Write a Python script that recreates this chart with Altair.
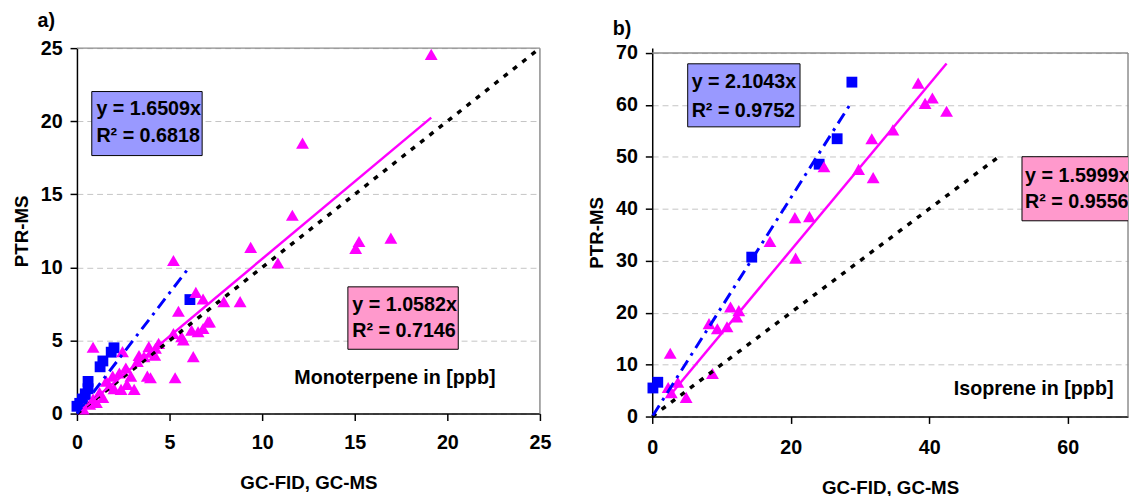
import altair as alt
import pandas as pd

FONT = "Liberation Sans"

# ---------------- data ----------------
# a) Monoterpene, blue squares
mono_sq_x = [0.0, 0.15, 0.3, 0.45, 0.6, 0.6, 1.25, 1.4, 1.85, 2.0, 6.1]
mono_sq_y = [0.5, 0.7, 1.0, 1.35, 1.7, 2.2, 3.2, 3.6, 4.2, 4.5, 7.8]
# a) Monoterpene, magenta triangles
mono_tri_x = [19.13, 12.18, 11.63, 9.38, 10.85, 15.23, 15.05, 16.95, 5.21, 6.42,
              6.81, 7.93, 8.81, 5.48, 7.07, 6.81, 6.54, 6.19, 5.65, 5.21,
              4.24, 6.28, 3.97, 5.30, 0.87, 2.46, 3.35, 3.88, 4.41, 3.62,
              3.26, 2.64, 2.29, 1.93, 2.91, 3.80, 2.38, 3.09, 1.76, 1.22,
              1.58, 0.87, 0.69, 1.05, 0.34, 5.74, 7.16, 4.00, 4.20, 2.00,
              2.70, 1.40]
mono_tri_y = [24.57, 18.5, 13.57, 11.37, 10.3, 11.77, 11.3, 12.0, 10.47, 8.29,
              7.84, 7.66, 7.66, 7.0, 6.27, 5.82, 5.6, 5.7, 5.26, 5.48,
              4.47, 3.9, 2.45, 2.45, 4.54, 4.24, 3.97, 4.58, 4.8, 3.9,
              3.57, 3.12, 2.78, 2.56, 2.56, 2.56, 1.66, 1.66, 1.89, 1.44,
              2.22, 0.99, 0.65, 0.76, 0.32, 5.03, 6.27, 4.2, 4.0, 1.7,
              2.0, 1.1]

# b) Isoprene, blue squares
iso_sq_x = [0.1, 0.8, 14.37, 24.1, 26.7, 28.83]
iso_sq_y = [5.5, 6.6, 30.7, 48.6, 53.5, 64.4]
# b) Isoprene, magenta triangles
iso_tri_x = [38.4, 40.45, 39.4, 42.5, 34.75, 31.7, 29.8, 31.9, 24.8, 20.6,
             22.7, 17.0, 20.7, 11.3, 12.5, 12.2, 8.2, 9.4, 10.8, 2.6,
             8.7, 3.7, 2.3, 2.75, 4.9]
iso_tri_y = [64.2, 61.35, 60.3, 58.8, 55.2, 53.5, 47.6, 46.0, 48.1, 38.3,
             38.5, 33.7, 30.5, 21.1, 20.4, 19.2, 17.9, 16.9, 17.3, 12.2,
             8.3, 6.6, 5.6, 4.6, 3.7]

# regression slopes shown in the chart
slope_mono_sq, r2_mono_sq = 1.6509, 0.6818
slope_mono_tri, r2_mono_tri = 1.0582, 0.7146
slope_iso_sq, r2_iso_sq = 2.1043, 0.9752
slope_iso_tri, r2_iso_tri = 1.5999, 0.9556

# axis ticks
mono_x_ticks = [0, 5, 10, 15, 20, 25]
mono_y_ticks = [0, 5, 10, 15, 20, 25]
iso_x_ticks = [0, 20, 40, 60]
iso_y_ticks = [0, 10, 20, 30, 40, 50, 60, 70]

BLUE = "#0000ff"
MAGENTA = "#ff00ff"
BOX_BLUE = "#9999ff"
BOX_PINK = "#ff99cc"


def x_axis(values, lp, tp):
    return alt.Axis(values=values, title="GC-FID, GC-MS", format="d",
                    labelFont=FONT, labelFontSize=20, labelFontWeight="bold",
                    labelColor="black", labelFlush=False, labelPadding=lp,
                    titleFont=FONT, titleFontSize=19, titleFontWeight="bold",
                    titleColor="black", titlePadding=tp,
                    tickSize=7, tickColor="black", tickWidth=1.5,
                    domainColor="black", domainWidth=1.5, grid=False)


def y_axis(values):
    return alt.Axis(values=values, title="PTR-MS", format="d",
                    labelFont=FONT, labelFontSize=20, labelFontWeight="bold",
                    labelColor="black", labelFlush=False, labelPadding=8,
                    titleFont=FONT, titleFontSize=19, titleFontWeight="bold",
                    titleColor="black", titlePadding=9,
                    tickSize=7, tickColor="black", tickWidth=1.5,
                    domainColor="black", domainWidth=1.5,
                    grid=True, gridColor="#c4c4c4", gridDash=[6, 4], gridWidth=1)


def panel(label, sq_x, sq_y, tri_x, tri_y, s_sq, r_sq, s_tri, r_tri,
          xdom, ydom, xticks, yticks, one_max, frame_x, frame_y,
          box_sq, box_tri, note, width, height, xlp, xtp, toff):
    xs = alt.Scale(domain=xdom, nice=False, zero=False)
    ys = alt.Scale(domain=ydom, nice=False, zero=False)
    xa = x_axis(xticks, xlp, xtp)
    ya = y_axis(yticks)
    X = alt.X("x:Q", scale=xs, axis=xa)
    Y = alt.Y("y:Q", scale=ys, axis=ya)

    sq = pd.DataFrame({"x": sq_x, "y": sq_y})
    tri = pd.DataFrame({"x": tri_x, "y": tri_y})

    # frame (top and right edges)
    top = alt.Chart(pd.DataFrame({"x": [0], "x2": [frame_x], "y": [frame_y]})).mark_rule(
        color="#8c8c8c", strokeWidth=1.5).encode(x=X, x2="x2:Q", y=Y)
    right = alt.Chart(pd.DataFrame({"x": [frame_x], "y": [0], "y2": [frame_y]})).mark_rule(
        color="#8c8c8c", strokeWidth=1.5).encode(x=X, y=Y, y2="y2:Q")

    pts_sq = alt.Chart(sq).mark_point(shape="square", filled=True, size=121,
                                      color=BLUE, opacity=1).encode(x=X, y=Y)
    pts_tri = alt.Chart(tri).mark_point(shape="triangle-up", filled=True, size=170,
                                        color=MAGENTA, opacity=1).encode(x=X, y=Y)

    one = alt.Chart(pd.DataFrame({"x": [0, one_max], "y": [0, one_max]})).mark_line(
        color="black", strokeWidth=3.5, strokeDash=[5, 7]).encode(x=X, y=Y)

    sx0, sx1 = min(sq_x), max(sq_x)
    tx0, tx1 = min(tri_x), max(tri_x)
    line_sq = alt.Chart(pd.DataFrame({"x": [sx0, sx1], "y": [s_sq * sx0, s_sq * sx1]})).mark_line(
        color=BLUE, strokeWidth=3, strokeDash=[12, 6, 3, 6]).encode(x=X, y=Y)
    line_tri = alt.Chart(pd.DataFrame({"x": [tx0, tx1], "y": [s_tri * tx0, s_tri * tx1]})).mark_line(
        color=MAGENTA, strokeWidth=2.5).encode(x=X, y=Y)

    layers = [top, right, pts_sq, pts_tri, one, line_sq, line_tri]

    for (bx0, bx1, by0, by1, tx, ty1, ty2, fill), s, r in [
            (box_sq, s_sq, r_sq), (box_tri, s_tri, r_tri)]:
        rect = alt.Chart(pd.DataFrame({"x": [bx0], "x2": [bx1], "y": [by0], "y2": [by1]})).mark_rect(
            fill=fill, stroke="black", strokeWidth=1, clip=True).encode(
            x=X, x2="x2:Q", y=Y, y2="y2:Q")
        txt = alt.Chart(pd.DataFrame({
            "x": [tx, tx], "y": [ty1, ty2],
            "t": [f"y = {s:.4f}x", f"R\u00b2 = {r:.4f}"]})).mark_text(
            align="left", baseline="middle", font=FONT, fontSize=20,
            fontWeight="bold", color="black", clip=True).encode(x=X, y=Y, text="t:N")
        layers += [rect, txt]

    nx, ny, ntext = note
    note_chart = alt.Chart(pd.DataFrame({"x": [nx], "y": [ny], "t": [ntext]})).mark_text(
        align="right", baseline="middle", font=FONT, fontSize=20,
        fontWeight="bold", color="black").encode(x=X, y=Y, text="t:N")
    layers.append(note_chart)

    return alt.layer(*layers).properties(
        width=width, height=height,
        title=alt.TitleParams(text=label, anchor="start", frame="group", dx=-40,
                              offset=toff, fontSize=20, font=FONT,
                              fontWeight="bold", color="black", baseline="bottom"))


pa = panel("a)", mono_sq_x, mono_sq_y, mono_tri_x, mono_tri_y,
           slope_mono_sq, r2_mono_sq, slope_mono_tri, r2_mono_tri,
           [0, 25], [0, 25], mono_x_ticks, mono_y_ticks, 25, 25, 25,
           (0.8, 6.76, 17.65, 22.03, 1.05, 20.8, 19.0, BOX_BLUE),
           (14.63, 20.59, 4.4, 8.67, 14.87, 7.41, 5.66, BOX_PINK),
           (22.6, 2.4, "Monoterpene in [ppb]"),
           470, 371, 12, 22, -13)

pb = panel("b)", iso_sq_x, iso_sq_y, iso_tri_x, iso_tri_y,
           slope_iso_sq, r2_iso_sq, slope_iso_tri, r2_iso_tri,
           [0, 68.7], [0, 70.95], iso_x_ticks, iso_y_ticks, 50, 68.7, 70,
           (5.12, 21.34, 55.79, 67.93, 5.69, 64.33, 58.82, BOX_BLUE),
           (53.39, 69.46, 37.7, 50.04, 53.84, 46.36, 41.31, BOX_PINK),
           (66.6, 5.3, "Isoprene in [ppb]"),
           483, 374, 15, 21, -16)

chart = alt.hconcat(pa, pb, spacing=36).properties(
    padding={"left": 4, "top": 0, "right": 0, "bottom": 0},
    background="white",
).configure_view(stroke=None)

chart.save("out.html", embed_options={"renderer": "svg", "actions": False})
